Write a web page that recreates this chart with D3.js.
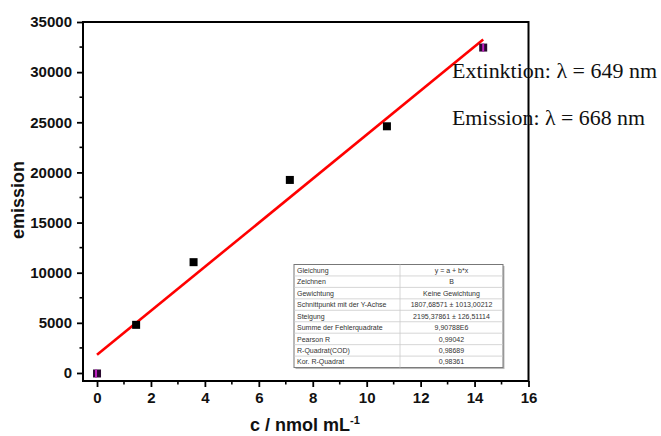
<!DOCTYPE html>
<html><head><meta charset="utf-8">
<script src="https://cdn.jsdelivr.net/npm/d3@7"></script>
<style>body{margin:0;background:#fff}svg{display:block}</style>
</head><body>
<svg id="c" width="661" height="436"></svg>
<script>
// Data
const concentrations = [0, 1.45, 3.58, 7.15, 10.75, 14.32];
const emissionValues = [-50, 4800, 11050, 19250, 24600, 32450];
const fitIntercept = 1807.68571;
const fitSlope = 2195.37861;
const fitRange = [0, 14.32];
const xTicks = [0, 2, 4, 6, 8, 10, 12, 14, 16];
const yTicks = [0, 5000, 10000, 15000, 20000, 25000, 30000, 35000];
const tableLabels = ["Gleichung","Zeichnen","Gewichtung","Schnittpunkt mit der Y-Achse","Steigung","Summe der Fehlerquadrate","Pearson R","R-Quadrat(COD)","Kor. R-Quadrat"];
const tableValues = ["y = a + b*x","B","Keine Gewichtung","1807,68571 \u00b1 1013,00212","2195,37861 \u00b1 126,51114","9,90788E6","0,99042","0,98689","0,98361"];
const annotations = ["Extinktion: \u03bb = 649 nm","Emission: \u03bb = 668 nm"];

const svg = d3.select("#c");
const L = 83, R = 528.5, T = 22, B = 381;
const x = d3.scaleLinear().domain([-0.52, 16]).range([L, R]);
const y = d3.scaleLinear().domain([-800, 35000]).range([B, T]);

// minor ticks
const xMinor = d3.range(1, 16, 2);
const yMinor = d3.range(2500, 35000, 5000);
const g = svg.append("g");
g.selectAll(".xm").data(xMinor).join("line")
  .attr("x1", d => x(d)).attr("x2", d => x(d)).attr("y1", B).attr("y2", B + 3.5)
  .attr("stroke", "#000").attr("stroke-width", 1.6);
g.selectAll(".ym").data(yMinor).join("line")
  .attr("y1", d => y(d)).attr("y2", d => y(d)).attr("x1", L).attr("x2", L - 3.5)
  .attr("stroke", "#000").attr("stroke-width", 1.6);

// axes
const xAxis = d3.axisBottom(x).tickValues(xTicks).tickSize(6).tickPadding(5).tickFormat(d3.format("d"));
const yAxis = d3.axisLeft(y).tickValues(yTicks).tickSize(6).tickPadding(5).tickFormat(d3.format("d"));
const gx = svg.append("g").attr("transform", `translate(0,${B})`).call(xAxis);
const gy = svg.append("g").attr("transform", `translate(${L},0)`).call(yAxis);
[gx, gy].forEach(a => {
  a.select(".domain").remove();
  a.selectAll(".tick line").attr("stroke", "#000").attr("stroke-width", 1.8);
  a.selectAll(".tick text").attr("fill", "#111")
    .style("font-family", "Liberation Sans, Arial, sans-serif")
    .style("font-weight", "bold").style("font-size", "15px");
});

// frame
svg.append("rect").attr("x", L).attr("y", T).attr("width", R - L).attr("height", B - T)
  .attr("fill", "none").attr("stroke", "#000").attr("stroke-width", 2);

// fit line
svg.append("line")
  .attr("x1", x(fitRange[0])).attr("y1", y(fitIntercept + fitSlope * fitRange[0]))
  .attr("x2", x(fitRange[1])).attr("y2", y(fitIntercept + fitSlope * fitRange[1]))
  .attr("stroke", "#ff0000").attr("stroke-width", 2.6);

// points
const pts = concentrations.map((c, i) => ({c, v: emissionValues[i], i}));
svg.selectAll(".pt").data(pts).join("rect")
  .attr("x", d => x(d.c) - 4).attr("y", d => y(d.v) - 4)
  .attr("width", 8).attr("height", 8)
  .attr("fill", d => (d.i === 0 || d.i === pts.length - 1) ? "#2a0a30" : "#000");
svg.selectAll(".ptm").data(pts.filter(d => d.i === 0 || d.i === pts.length - 1)).join("rect")
  .attr("x", d => x(d.c) - (d.i === 0 ? 2 : 1)).attr("y", d => y(d.v) - 4)
  .attr("width", 2).attr("height", 8).attr("fill", "#c020c0");

// axis titles
svg.append("text").attr("x", 305).attr("y", 431).attr("text-anchor", "middle")
  .style("font-family", "Liberation Sans, Arial, sans-serif").style("font-weight", "bold")
  .style("font-size", "18px").attr("fill", "#111")
  .text("c / nmol mL")
  .append("tspan").attr("dy", -7).style("font-size", "11px").text("-1");
svg.append("text").attr("transform", "translate(24,200) rotate(-90)").attr("text-anchor", "middle")
  .style("font-family", "Liberation Sans, Arial, sans-serif").style("font-weight", "bold")
  .style("font-size", "18px").attr("fill", "#111").text("emission");

// table
const tx = 294, ty = 264.5, tw = 209, rh = 11.45, cx = 400;
const tg = svg.append("g");
tg.append("rect").attr("x", tx + 1.5).attr("y", ty + 1.5).attr("width", tw).attr("height", rh * 9)
  .attr("fill", "#bbb");
tg.append("rect").attr("x", tx).attr("y", ty).attr("width", tw).attr("height", rh * 9)
  .attr("fill", "#fff").attr("stroke", "#777").attr("stroke-width", 1);
tg.selectAll(".rl").data(d3.range(1, 9)).join("line")
  .attr("x1", tx).attr("x2", tx + tw).attr("y1", d => ty + d * rh).attr("y2", d => ty + d * rh)
  .attr("stroke", "#ccc").attr("stroke-width", 0.8);
tg.append("line").attr("x1", cx).attr("x2", cx).attr("y1", ty).attr("y2", ty + rh * 9)
  .attr("stroke", "#ccc").attr("stroke-width", 0.8);
tg.selectAll(".tl").data(tableLabels).join("text")
  .attr("x", tx + 3).attr("y", (d, i) => ty + i * rh + 8.3)
  .style("font-family", "Liberation Sans, Arial, sans-serif").style("font-size", "7px")
  .attr("fill", "#333").text(d => d);
tg.selectAll(".tv").data(tableValues).join("text")
  .attr("x", (cx + tx + tw) / 2).attr("y", (d, i) => ty + i * rh + 8.3).attr("text-anchor", "middle")
  .style("font-family", "Liberation Sans, Arial, sans-serif").style("font-size", "7px")
  .attr("fill", "#333").text(d => d);

// annotations
svg.selectAll(".ann").data(annotations).join("text")
  .attr("x", 452).attr("y", (d, i) => 78 + i * 47)
  .attr("textLength", (d, i) => i === 0 ? 205 : 193).attr("lengthAdjust", "spacingAndGlyphs")
  .style("font-family", "Liberation Serif, 'DejaVu Serif', serif").style("font-size", "21px")
  .attr("fill", "#111").text(d => d);
</script>
</body></html>
